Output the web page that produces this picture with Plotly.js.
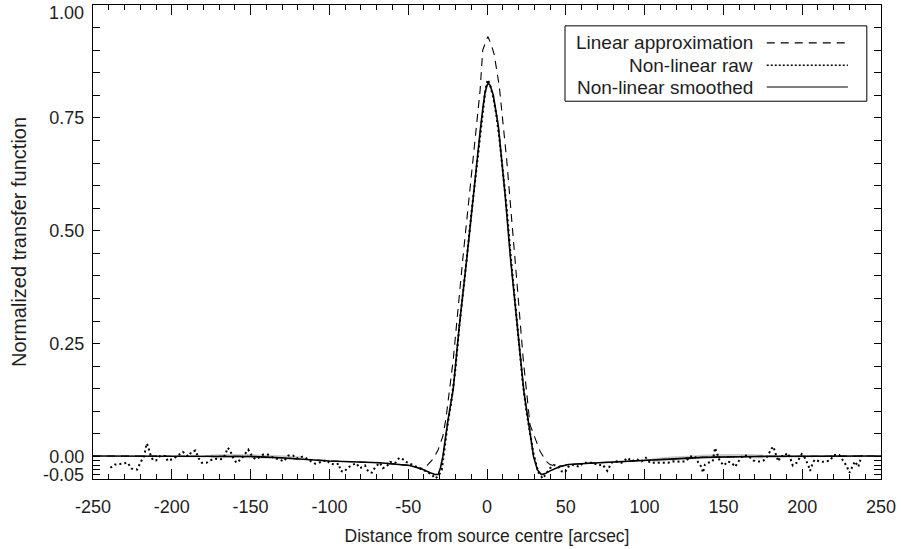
<!DOCTYPE html>
<html>
<head>
<meta charset="utf-8">
<script src="https://cdn.plot.ly/plotly-3.0.1.min.js"></script>
<style>html,body{margin:0;padding:0;background:#fff;}#chart{width:901px;height:549px;}</style>
</head>
<body>
<div id="chart"></div>
<script>
// Non-linear smoothed (solid)
const smoothX = [-250,-200,-150,-131,-100,-68,-49,-45,-40.6,-36,-33,-31,-29.5,-28,-25,-21.4,-17.6,-12.9,-8.7,-4,-2.5,-1.3,0,0.8,2,4,7.2,11.4,15,19.2,23.5,27,29.5,32,34.5,37,40,46,51.6,65,80,112,137,170,250];
const smoothY = [0.001,0.001,0.0,-0.003,-0.010,-0.014,-0.020,-0.024,-0.029,-0.036,-0.040,-0.040,-0.025,0.0,0.075,0.150,0.288,0.436,0.583,0.731,0.775,0.805,0.822,0.827,0.822,0.800,0.731,0.583,0.436,0.288,0.141,0.06,0.0,-0.03,-0.040,-0.038,-0.032,-0.023,-0.018,-0.015,-0.012,-0.007,-0.002,0.0,0.001];

// Linear approximation (dashed)
const linX = [-250,-200,-150,-131,-100,-68,-49,-44,-40,-38,-34,-31,-28,-26,-24,-21.4,-15.4,-8.7,-4.4,-2.7,0.5,2.5,4.6,7.8,12.5,17.8,23,27.3,30,31.5,33.6,35.7,38,40,44,48,51.6,65,80,112,137,170,250];
const linY = [0.001,0.001,0.0,-0.003,-0.010,-0.014,-0.020,-0.025,-0.027,-0.020,-0.005,0.015,0.045,0.085,0.14,0.215,0.436,0.657,0.81,0.90,0.93,0.915,0.89,0.82,0.657,0.436,0.215,0.07,0.045,0.03,0.012,0.0,-0.012,-0.018,-0.022,-0.021,-0.018,-0.015,-0.012,-0.007,-0.002,0.0,0.001];

// Non-linear raw (dotted): left wing, core, right wing
const rawLeftX = [-239,-236,-233,-231,-228,-225.6,-222,-220,-217.5,-216,-215,-214,-212,-210,-207.5,-204,-202.6,-199,-196,-193,-189.5,-187.5,-185,-183,-181,-178,-175,-171.5,-168,-166,-164.6,-163,-161.6,-159,-156,-153,-151.5,-149,-147,-145,-142,-139,-135.6,-132.5,-129,-126,-123,-121,-116.6,-113,-109,-106,-101.7,-99.6,-96.4,-94,-93,-90.7,-88,-86,-83,-80.6,-77.4,-75.3,-73,-71,-68,-66,-63.6,-61.5,-58.4,-55.6,-53.5,-52,-49,-45.7,-42.5,-38,-35,-33,-31,-28.7];
const rawLeftY = [-0.025,-0.018,-0.017,-0.016,-0.014,-0.027,-0.029,-0.014,0.001,0.029,0.023,0.008,-0.008,-0.009,0.001,0.001,-0.010,-0.005,0.002,0.010,0.0,0.010,0.013,-0.004,-0.014,-0.014,-0.008,-0.005,-0.006,0.004,0.019,0.014,0.0,-0.014,-0.006,0.008,0.015,0.0,-0.006,-0.003,0.004,0.004,-0.003,-0.006,-0.011,0.002,0.002,-0.005,0.0,-0.008,-0.016,-0.013,-0.008,-0.016,-0.018,-0.016,-0.032,-0.034,-0.024,-0.020,-0.015,-0.026,-0.020,-0.034,-0.036,-0.024,-0.014,-0.026,-0.022,-0.012,-0.015,-0.003,-0.006,-0.011,-0.016,-0.020,-0.026,-0.034,-0.040,-0.049,-0.044,-0.030];
const rawCoreX = [-27,-25,-22.5,-20,-17.5,-15,-12.5,-10,-7.5,-5,-2.5,-1,0.5,2,4,6,8,10,12.5,15,17.5,20,22.5,25,27.5,29.4];
const rawCoreY = [0.015,0.07,0.125,0.195,0.29,0.365,0.45,0.535,0.615,0.695,0.775,0.812,0.835,0.822,0.795,0.755,0.70,0.63,0.55,0.445,0.355,0.26,0.17,0.10,0.045,0.008];
const rawRightX = [31.5,32.6,35.3,37.9,40,42.5,45.3,47.4,49.5,51.6,53.7,55.8,58.6,61,64.3,67.4,70.6,73.4,76.3,79,82.3,85.5,89.3,91.8,94.5,98,100.8,103.4,106,108.7,111.9,115,117.8,120.4,123.5,126.3,128.8,132,134,136.2,137,138.3,140.4,143.2,144.7,146,147.8,150.4,152.5,155.3,157.4,160,162.6,165.8,169,171.5,174.3,176.4,178.5,180,181.7,183.4,184.9,186.4,189,190.5,192.3,194,196.5,199.7,201.8,203.9,205,206.7,208,210.9,213.8,217.6,220.2,223.5,226,228.2,230,232,233.5,235.6,237.8];
const rawRightY = [-0.021,-0.035,-0.049,-0.036,-0.026,-0.019,-0.023,-0.033,-0.035,-0.023,-0.018,-0.020,-0.023,-0.014,-0.014,-0.014,-0.020,-0.018,-0.032,-0.014,-0.011,-0.014,-0.003,-0.011,-0.006,-0.011,-0.003,-0.014,-0.014,-0.014,-0.014,-0.014,-0.011,-0.012,-0.011,-0.011,0.0,0.0,-0.013,-0.024,-0.036,-0.018,-0.014,-0.011,0.019,0.008,-0.011,-0.020,-0.011,-0.014,-0.023,-0.009,0.003,0.001,-0.009,-0.011,-0.011,-0.007,0.003,0.015,0.022,0.003,-0.011,0.001,0.001,0.008,-0.002,-0.020,-0.014,0.005,-0.004,-0.020,-0.032,-0.014,-0.007,-0.011,-0.012,-0.009,0.003,0.003,-0.009,-0.021,-0.036,-0.021,-0.011,-0.023,0.003];

// light grey band along the wings
const bandLeftX = [-175,-160,-145,-130,-118];
const bandLeftY = [0.0,0.001,0.0,-0.002,-0.004];
const bandRightX = [105,120,135,150,165,175];
const bandRightY = [-0.008,-0.004,-0.001,0.001,0.001,0.0];

// axis ticks
const xTicks = [-250,-200,-150,-100,-50,0,50,100,150,200,250];
const xTickText = ["-250","-200","-150","-100","-50","0","50","100","150","200","250"];
const yTickVals = [-0.05,-0.04,-0.03,-0.02,-0.01,0,0.05,0.10,0.15,0.20,0.25,0.30,0.35,0.40,0.45,0.50,0.55,0.60,0.65,0.70,0.75,0.80,0.85,0.90,0.95,1.00];
const yLabelled = {"0":"0.00","0.25":"0.25","0.5":"0.50","0.75":"0.75"};
const yTickText = yTickVals.map(v => yLabelled[String(v)] || "");
// end labels nudged inward, as in the original
const yEndLabels = [{v: 1.0, t: "1.00", shift: -8}, {v: -0.05, t: "-0.05", shift: 4}];

const legendNames = ["Linear approximation","Non-linear raw","Non-linear smoothed"];

const FONT = "Liberation Sans, Arial, Helvetica, sans-serif";
const TXT = "#1e1e1e";

const traces = [
  {x: bandLeftX, y: bandLeftY, mode: "lines", line: {color: "#cccccc", width: 4, shape: "spline"}, showlegend: false, hoverinfo: "skip"},
  {x: bandRightX, y: bandRightY, mode: "lines", line: {color: "#cccccc", width: 4, shape: "spline"}, showlegend: false, hoverinfo: "skip"},
  {x: smoothX, y: smoothY, mode: "lines", name: legendNames[2], line: {color: "#000", width: 1.6}},
  {x: rawLeftX.concat(rawCoreX, rawRightX), y: rawLeftY.concat(rawCoreY, rawRightY), mode: "lines", name: legendNames[1], line: {color: "#000", width: 2, dash: "2px,3px"}},
  {x: linX, y: linY, mode: "lines", name: legendNames[0], line: {color: "#000", width: 1.1, dash: "8px,6px"}}
];

// boxed key: text on the left, line samples on the right
const rowY = [0.920, 0.873, 0.827];
const shapes = [
  {type: "rect", xref: "paper", yref: "paper", x0: 0.599, x1: 0.982, y0: 0.797, y1: 0.956, line: {color: "#000", width: 1}, fillcolor: "rgba(255,255,255,1)", layer: "below"}
];
const annotations = [];
legendNames.forEach((n, i) => {
  shapes.push({type: "line", xref: "paper", yref: "paper", x0: 0.855, x1: 0.958, y0: rowY[i], y1: rowY[i],
    line: {color: "#000", width: i === 1 ? 1.4 : 1.1, dash: i === 0 ? "8px,6px" : (i === 1 ? "2px,2px" : "solid")}});
  annotations.push({xref: "paper", yref: "paper", x: 0.840, y: rowY[i], xanchor: "right", yanchor: "middle",
    text: n, showarrow: false, font: {family: FONT, size: 19, color: TXT}});
});
yEndLabels.forEach(l => {
  annotations.push({xref: "paper", yref: "y", x: 0, y: l.v, xanchor: "right", yanchor: "middle", xshift: -7, yshift: l.shift,
    text: l.t, showarrow: false, font: {family: FONT, size: 18, color: TXT}});
});

const layout = {
  width: 901, height: 549,
  margin: {l: 93, r: 20, t: 5, b: 70},
  paper_bgcolor: "#fff", plot_bgcolor: "#fff",
  showlegend: false,
  xaxis: {
    range: [-250, 250], tickvals: xTicks, ticktext: xTickText, ticks: "inside", ticklen: 10, tickwidth: 1, tickcolor: "#000",
    showline: true, linecolor: "#000", linewidth: 1, mirror: "ticks", showgrid: false, zeroline: false,
    minor: {dtick: 10, tick0: 0, ticks: "inside", ticklen: 5, tickcolor: "#000", tickwidth: 1, showgrid: false},
    tickfont: {family: FONT, size: 18, color: TXT}, ticklabelstandoff: 11,
    title: {text: "Distance from source centre [arcsec]", font: {family: FONT, size: 17.5, color: TXT}, standoff: 14}
  },
  yaxis: {
    range: [-0.05, 1.0], tickvals: yTickVals, ticktext: yTickText, ticks: "inside", ticklen: 7, tickwidth: 1, tickcolor: "#000",
    showline: true, linecolor: "#000", linewidth: 1, mirror: "ticks", showgrid: false, zeroline: false,
    tickfont: {family: FONT, size: 18, color: TXT}, ticklabelstandoff: 4,
    title: {text: "Normalized transfer function", font: {family: FONT, size: 20, color: TXT}, standoff: 17}
  },
  shapes: shapes,
  annotations: annotations
};

Plotly.newPlot("chart", traces, layout, {staticPlot: true, displayModeBar: false});
</script>
</body>
</html>
